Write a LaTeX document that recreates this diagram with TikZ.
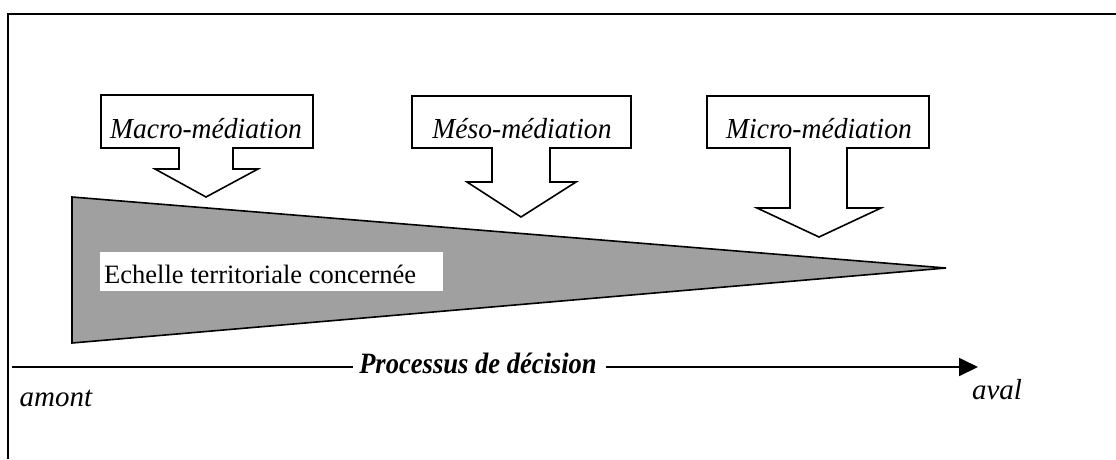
\documentclass[tikz,border=0pt]{standalone}
\usepackage{fontspec}
\setmainfont{Liberation Serif}
\usetikzlibrary{arrows.meta}
\definecolor{wedgegray}{RGB}{160,160,160}
\tikzset{
  frameline/.style={line width=2.4pt},
  callout/.style={draw, line width=1.6pt, fill=white, line join=miter},
  callouttext/.style={font=\fontsize{29}{32}\selectfont\itshape, inner sep=0pt, anchor=base},
  wedge/.style={draw, line width=1.6pt, fill=wedgegray, line join=miter},
  labelbox/.style={fill=white, inner sep=0pt, anchor=north west, minimum width=343pt, minimum height=39pt},
  axis/.style={line width=1.8pt},
  axistext/.style={font=\fontsize{29.5}{32}\selectfont\bfseries\itshape, inner sep=0pt, anchor=base},
  endtext/.style={font=\fontsize{29}{32}\selectfont\itshape, inner sep=0pt, anchor=base}
}
\begin{document}
\begin{tikzpicture}[x=1pt,y=-1pt]
\useasboundingbox (0,0) rectangle (1116,459);
% frame (top and left edges only)
\draw[frameline] (8,459) -- (8,14) -- (1116,14);
% wedge
\draw[wedge] (72,197) -- (946,268) -- (72,343) -- cycle;
\node[labelbox] (echbox) at (100,252) {};
\node[font=\fontsize{26.5}{30}\selectfont, inner sep=0pt, anchor=base west] (ech) at (104,283) {Echelle territoriale concernée};
% callouts
\draw[callout] (101,95) -- (313,95) -- (313,148) -- (233,148) -- (233,169) -- (258,169) -- (206,197) -- (155,169) -- (179,169) -- (179,148) -- (101,148) -- cycle;
\node[callouttext] (macro) at (206,138) {\scalebox{0.95}[1]{Macro-médiation}};
\draw[callout] (412,96) -- (631,96) -- (631,148) -- (550,148) -- (550,182) -- (576,182) -- (521,217) -- (467,182) -- (492,182) -- (492,148) -- (412,148) -- cycle;
\node[callouttext] (meso) at (522,138) {\scalebox{0.95}[1]{Méso-médiation}};
\draw[callout] (707,96) -- (929,96) -- (929,148) -- (847,148) -- (847,208) -- (881,208) -- (819,237) -- (757,208) -- (790,208) -- (790,148) -- (707,148) -- cycle;
\node[callouttext] (micro) at (819,138) {\scalebox{0.95}[1]{Micro-médiation}};
% axis
\node[axistext] (proc) at (478,373) {\scalebox{0.9}[1]{Processus de décision}};
\coordinate (axstart) at (12,367);
\coordinate (axend) at (978,367);
\draw[axis] (axstart) -- ([xshift=-6pt]proc.west |- axstart);
\draw[axis, -{Triangle[length=19pt,width=18pt]}] ([xshift=9pt]proc.east |- axend) -- (axend);
\node[endtext] (amont) at (56,406) {amont};
\node[endtext] (aval) at (997,399) {aval};
\end{tikzpicture}
\end{document}
